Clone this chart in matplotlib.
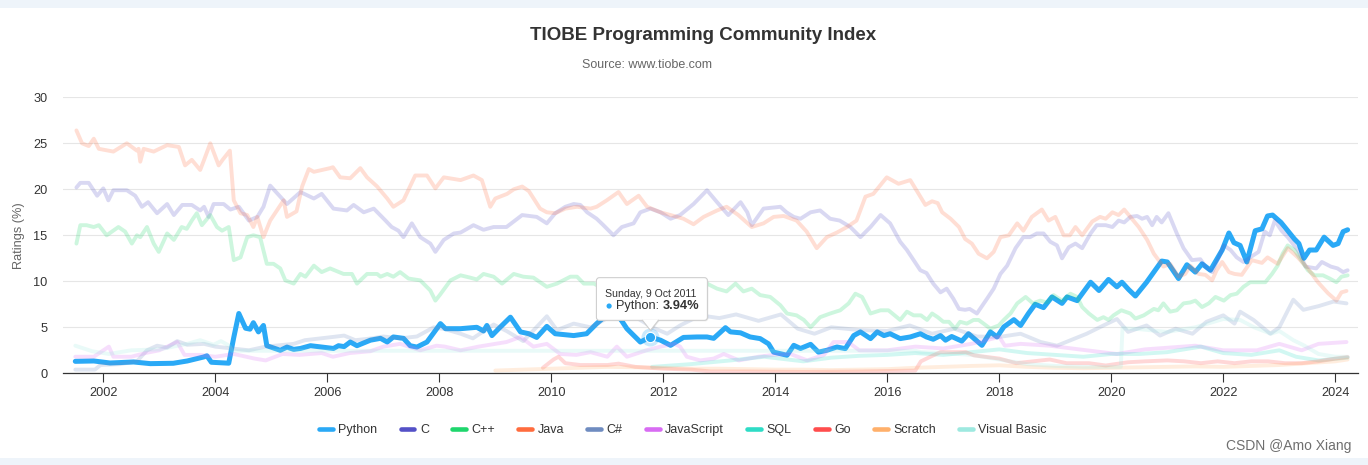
import matplotlib
matplotlib.use("Agg")
import matplotlib.pyplot as plt
from matplotlib.lines import Line2D
from matplotlib.patches import Rectangle, FancyBboxPatch, Polygon, Circle
from matplotlib.transforms import Affine2D

plt.rcParams['font.family'] = ['Liberation Sans', 'DejaVu Sans']

# ---------------- data ----------------
series_names = ["Python", "C", "C++", "Java", "C#", "JavaScript", "SQL", "Go", "Scratch", "Visual Basic"]
series_colors = ["#2aa9f6", "#5451c7", "#1fd66d", "#ff6c3e", "#6f8cc0", "#d86cf3", "#2edcc6", "#ff4d4d", "#ffb06b", "#9ee9e0"]

python_x = [2001.5, 2001.83, 2002.12, 2002.54, 2002.84, 2003.25, 2003.5, 2003.79, 2003.85, 2003.93, 2004.24, 2004.33, 2004.42, 2004.54, 2004.62, 2004.68, 2004.77, 2004.86, 2004.92, 2005.16, 2005.28, 2005.4, 2005.52, 2005.7, 2006.11, 2006.2, 2006.3, 2006.41, 2006.53, 2006.77, 2006.95, 2007.07, 2007.18, 2007.36, 2007.48, 2007.6, 2007.78, 2008.02, 2008.11, 2008.38, 2008.67, 2008.79, 2008.85, 2008.94, 2009.06, 2009.27, 2009.45, 2009.6, 2009.74, 2009.92, 2010.07, 2010.4, 2010.63, 2010.81, 2011.0, 2011.17, 2011.35, 2011.59, 2011.77, 2011.95, 2012.13, 2012.36, 2012.6, 2012.78, 2012.9, 2013.11, 2013.2, 2013.38, 2013.55, 2013.73, 2013.88, 2013.97, 2014.21, 2014.33, 2014.45, 2014.63, 2014.77, 2014.92, 2015.1, 2015.25, 2015.4, 2015.52, 2015.7, 2015.82, 2015.94, 2016.05, 2016.23, 2016.41, 2016.59, 2016.7, 2016.82, 2016.95, 2017.04, 2017.15, 2017.33, 2017.45, 2017.55, 2017.69, 2017.84, 2017.96, 2018.08, 2018.26, 2018.38, 2018.52, 2018.64, 2018.79, 2018.94, 2019.12, 2019.21, 2019.39, 2019.63, 2019.78, 2019.95, 2020.1, 2020.19, 2020.31, 2020.43, 2020.63, 2020.9, 2021.0, 2021.2, 2021.35, 2021.5, 2021.62, 2021.77, 2021.98, 2022.1, 2022.19, 2022.3, 2022.42, 2022.57, 2022.69, 2022.79, 2022.88, 2023.03, 2023.15, 2023.27, 2023.35, 2023.44, 2023.54, 2023.66, 2023.8, 2023.96, 2024.05, 2024.14, 2024.22]
python_y = [1.3, 1.34, 1.12, 1.23, 1.05, 1.09, 1.34, 1.77, 1.9, 1.2, 1.1, 3.9, 6.5, 4.9, 4.8, 5.5, 4.5, 5.2, 3.0, 2.5, 2.85, 2.6, 2.7, 3.0, 2.7, 3.0, 2.9, 3.4, 3.0, 3.6, 3.8, 3.4, 3.95, 3.8, 3.0, 2.85, 3.4, 5.4, 4.85, 4.85, 5.0, 4.6, 5.2, 4.1, 4.85, 6.1, 4.5, 4.3, 3.9, 5.1, 4.3, 4.1, 4.3, 5.4, 6.4, 6.5, 4.85, 3.4, 3.94, 3.6, 3.04, 3.9, 3.95, 3.95, 3.8, 4.96, 4.5, 4.4, 3.95, 3.77, 3.2, 2.3, 1.96, 3.04, 2.7, 3.15, 2.3, 2.5, 2.86, 2.68, 4.1, 4.5, 3.77, 4.5, 4.1, 4.3, 3.77, 3.95, 4.3, 3.95, 3.7, 4.1, 3.6, 4.0, 3.5, 4.3, 3.77, 3.04, 4.5, 3.95, 5.04, 5.83, 5.2, 6.5, 7.5, 7.14, 8.3, 7.6, 8.3, 7.9, 9.9, 9.0, 10.2, 9.4, 9.9, 9.1, 8.4, 9.9, 12.2, 12.1, 10.3, 11.8, 11.0, 11.9, 11.2, 13.4, 15.25, 14.2, 13.9, 12.1, 15.5, 15.7, 17.1, 17.2, 16.4, 15.5, 14.6, 14.1, 12.5, 13.4, 13.4, 14.8, 13.9, 14.1, 15.4, 15.6]

c_x = [2001.52, 2001.59, 2001.74, 2001.89, 2002.0, 2002.09, 2002.18, 2002.42, 2002.57, 2002.69, 2002.8, 2002.96, 2003.14, 2003.26, 2003.41, 2003.58, 2003.73, 2003.8, 2003.88, 2003.97, 2004.15, 2004.27, 2004.42, 2004.6, 2004.75, 2004.86, 2004.98, 2005.1, 2005.28, 2005.52, 2005.76, 2005.9, 2006.11, 2006.35, 2006.47, 2006.65, 2006.83, 2007.04, 2007.15, 2007.27, 2007.36, 2007.51, 2007.66, 2007.84, 2007.93, 2008.08, 2008.26, 2008.38, 2008.61, 2008.79, 2008.97, 2009.2, 2009.48, 2009.74, 2009.92, 2010.07, 2010.25, 2010.4, 2010.52, 2010.64, 2010.81, 2010.93, 2011.11, 2011.26, 2011.47, 2011.59, 2011.77, 2011.95, 2012.13, 2012.3, 2012.54, 2012.78, 2012.96, 2013.16, 2013.38, 2013.5, 2013.58, 2013.79, 2014.09, 2014.2, 2014.33, 2014.45, 2014.63, 2014.8, 2014.98, 2015.15, 2015.34, 2015.52, 2015.7, 2015.88, 2016.05, 2016.23, 2016.35, 2016.47, 2016.59, 2016.7, 2016.82, 2016.95, 2017.06, 2017.18, 2017.28, 2017.39, 2017.47, 2017.6, 2017.78, 2017.9, 2018.02, 2018.14, 2018.29, 2018.43, 2018.55, 2018.67, 2018.79, 2018.91, 2019.03, 2019.12, 2019.24, 2019.36, 2019.48, 2019.63, 2019.74, 2019.9, 2020.02, 2020.13, 2020.23, 2020.34, 2020.46, 2020.55, 2020.64, 2020.73, 2020.81, 2020.9, 2021.02, 2021.17, 2021.29, 2021.44, 2021.59, 2021.68, 2021.8, 2021.92, 2022.01, 2022.13, 2022.24, 2022.36, 2022.48, 2022.63, 2022.74, 2022.83, 2022.92, 2023.04, 2023.15, 2023.33, 2023.47, 2023.66, 2023.76, 2023.92, 2024.04, 2024.14, 2024.22]
c_y = [20.2, 20.7, 20.7, 19.3, 20.1, 18.8, 19.9, 19.9, 19.3, 18.1, 18.6, 17.4, 18.4, 17.2, 18.3, 18.3, 17.7, 18.1, 17.0, 18.4, 18.4, 17.8, 18.1, 16.6, 17.0, 18.1, 20.4, 19.6, 18.4, 19.7, 19.0, 19.5, 17.9, 17.7, 18.3, 17.5, 17.9, 16.6, 15.9, 15.5, 14.8, 16.3, 14.8, 14.1, 13.2, 14.5, 15.2, 15.3, 16.1, 15.6, 15.9, 15.9, 17.2, 17.0, 16.3, 17.4, 18.1, 18.4, 18.3, 17.5, 16.8, 16.1, 15.0, 15.9, 16.3, 17.5, 17.9, 17.5, 16.8, 17.2, 18.4, 19.9, 18.6, 17.2, 18.6, 17.5, 16.1, 17.9, 18.1, 17.5, 17.0, 16.8, 17.5, 17.7, 16.8, 16.6, 15.9, 14.8, 15.9, 17.2, 16.3, 14.3, 13.4, 12.3, 11.2, 10.9, 9.75, 8.8, 9.2, 8.1, 7.0, 6.9, 7.0, 6.5, 8.1, 9.2, 10.8, 11.7, 13.6, 14.8, 14.8, 15.2, 15.2, 14.3, 13.9, 12.5, 13.7, 14.1, 13.6, 15.2, 16.1, 16.1, 15.9, 16.6, 16.4, 17.0, 17.1, 16.8, 17.0, 16.1, 17.0, 16.4, 17.4, 15.2, 13.6, 12.3, 12.4, 11.6, 11.0, 12.6, 13.9, 13.4, 12.6, 12.1, 12.6, 13.2, 15.4, 15.0, 16.6, 15.5, 14.8, 13.4, 11.6, 11.4, 12.1, 11.6, 11.4, 11.0, 11.2]

cpp_x = [2001.52, 2001.59, 2001.7, 2001.83, 2001.92, 2002.06, 2002.27, 2002.39, 2002.51, 2002.6, 2002.66, 2002.78, 2002.9, 2002.99, 2003.14, 2003.26, 2003.4, 2003.49, 2003.58, 2003.67, 2003.76, 2003.91, 2004.03, 2004.12, 2004.24, 2004.33, 2004.45, 2004.57, 2004.68, 2004.8, 2004.92, 2005.04, 2005.16, 2005.25, 2005.4, 2005.52, 2005.61, 2005.76, 2005.9, 2006.05, 2006.29, 2006.44, 2006.53, 2006.71, 2006.89, 2006.95, 2007.07, 2007.18, 2007.3, 2007.45, 2007.66, 2007.84, 2007.93, 2008.02, 2008.2, 2008.38, 2008.55, 2008.67, 2008.79, 2008.97, 2009.12, 2009.33, 2009.5, 2009.68, 2009.92, 2010.1, 2010.34, 2010.46, 2010.58, 2010.76, 2010.99, 2011.23, 2011.47, 2011.71, 2011.95, 2012.18, 2012.42, 2012.66, 2012.78, 2012.96, 2013.13, 2013.29, 2013.43, 2013.58, 2013.73, 2013.91, 2014.09, 2014.21, 2014.38, 2014.51, 2014.63, 2014.8, 2014.98, 2015.16, 2015.31, 2015.43, 2015.55, 2015.7, 2015.88, 2016.02, 2016.23, 2016.35, 2016.47, 2016.6, 2016.71, 2016.8, 2016.9, 2017.0, 2017.1, 2017.21, 2017.3, 2017.42, 2017.54, 2017.63, 2017.72, 2017.84, 2017.99, 2018.08, 2018.2, 2018.32, 2018.47, 2018.6, 2018.73, 2018.85, 2018.97, 2019.12, 2019.27, 2019.39, 2019.48, 2019.6, 2019.75, 2019.86, 2019.95, 2020.04, 2020.18, 2020.34, 2020.43, 2020.58, 2020.76, 2020.84, 2020.93, 2021.05, 2021.17, 2021.29, 2021.41, 2021.5, 2021.62, 2021.74, 2021.86, 2022.01, 2022.13, 2022.24, 2022.36, 2022.48, 2022.63, 2022.75, 2022.87, 2022.97, 2023.06, 2023.15, 2023.27, 2023.39, 2023.51, 2023.63, 2023.78, 2023.9, 2024.02, 2024.11, 2024.22]
cpp_y = [14.1, 16.1, 16.1, 15.9, 16.1, 15.0, 15.9, 15.4, 14.1, 15.0, 14.8, 15.9, 14.1, 13.2, 15.2, 14.5, 15.9, 15.7, 16.6, 17.4, 16.1, 17.2, 15.9, 15.5, 15.9, 12.3, 12.6, 14.8, 15.0, 14.8, 11.9, 11.9, 11.4, 10.1, 9.75, 10.8, 10.5, 11.7, 11.0, 11.4, 10.8, 10.8, 9.75, 10.8, 10.8, 10.5, 10.8, 10.5, 11.0, 10.3, 10.1, 9.0, 7.9, 8.6, 10.1, 10.65, 10.4, 10.2, 10.8, 10.5, 9.75, 10.8, 10.5, 10.4, 9.4, 9.75, 10.5, 10.5, 9.75, 9.75, 9.0, 8.3, 8.3, 8.2, 8.7, 8.3, 8.9, 9.4, 9.75, 9.2, 8.9, 9.75, 8.9, 9.2, 8.5, 8.3, 7.4, 6.5, 6.3, 5.8, 5.0, 6.1, 6.5, 6.85, 7.6, 8.65, 8.3, 6.5, 6.85, 6.85, 5.8, 6.7, 6.3, 6.3, 5.8, 6.5, 6.1, 5.6, 5.6, 4.85, 5.6, 5.4, 5.8, 5.8, 5.4, 4.85, 5.2, 5.8, 6.5, 7.6, 8.3, 7.6, 7.9, 7.7, 8.5, 7.9, 8.65, 8.3, 7.2, 6.5, 5.8, 6.1, 5.8, 6.3, 6.85, 6.5, 5.95, 6.3, 7.0, 6.85, 7.6, 6.7, 6.85, 7.6, 7.7, 7.9, 7.2, 7.6, 8.3, 7.9, 8.5, 8.65, 9.4, 9.9, 9.9, 9.9, 10.8, 11.7, 13.0, 13.9, 13.4, 12.3, 11.2, 10.65, 10.65, 10.3, 9.9, 10.5, 10.65]

java_x = [2001.52, 2001.62, 2001.74, 2001.83, 2001.92, 2002.18, 2002.42, 2002.6, 2002.63, 2002.66, 2002.72, 2002.9, 2003.14, 2003.35, 2003.46, 2003.58, 2003.73, 2003.8, 2003.91, 2004.06, 2004.13, 2004.26, 2004.33, 2004.45, 2004.57, 2004.68, 2004.75, 2004.86, 2004.98, 2005.22, 2005.28, 2005.45, 2005.55, 2005.67, 2005.76, 2006.05, 2006.1, 2006.23, 2006.41, 2006.59, 2006.71, 2006.89, 2007.07, 2007.18, 2007.36, 2007.57, 2007.78, 2007.93, 2008.08, 2008.38, 2008.61, 2008.76, 2008.91, 2009.0, 2009.21, 2009.33, 2009.48, 2009.6, 2009.8, 2009.92, 2010.07, 2010.25, 2010.46, 2010.7, 2010.81, 2010.99, 2011.2, 2011.35, 2011.56, 2011.71, 2011.95, 2012.13, 2012.36, 2012.54, 2012.72, 2012.96, 2013.13, 2013.34, 2013.58, 2013.79, 2013.97, 2014.15, 2014.38, 2014.56, 2014.74, 2014.92, 2015.1, 2015.28, 2015.45, 2015.61, 2015.75, 2015.99, 2016.2, 2016.41, 2016.5, 2016.68, 2016.8, 2016.9, 2016.98, 2017.13, 2017.28, 2017.39, 2017.51, 2017.63, 2017.78, 2017.9, 2018.02, 2018.17, 2018.32, 2018.43, 2018.58, 2018.76, 2018.88, 2019.0, 2019.15, 2019.26, 2019.36, 2019.48, 2019.66, 2019.8, 2019.9, 2020.02, 2020.13, 2020.23, 2020.34, 2020.49, 2020.64, 2020.76, 2020.93, 2021.05, 2021.2, 2021.32, 2021.41, 2021.56, 2021.68, 2021.8, 2021.88, 2021.98, 2022.1, 2022.2, 2022.33, 2022.51, 2022.69, 2022.79, 2022.97, 2023.15, 2023.33, 2023.51, 2023.69, 2023.87, 2024.02, 2024.11, 2024.2]
java_y = [26.4, 25.0, 24.7, 25.5, 24.4, 24.1, 25.0, 24.2, 24.4, 23.0, 24.4, 24.1, 24.8, 24.6, 22.6, 23.2, 22.1, 23.2, 25.0, 22.6, 23.2, 24.2, 18.8, 17.4, 17.2, 15.9, 17.0, 14.8, 16.6, 18.8, 17.0, 17.6, 20.3, 22.2, 21.9, 22.3, 22.4, 21.3, 21.2, 22.3, 21.3, 20.3, 19.0, 18.1, 18.8, 21.5, 21.5, 20.1, 21.3, 21.0, 21.5, 21.0, 18.1, 19.0, 19.5, 20.0, 20.3, 19.8, 17.9, 17.5, 17.4, 17.9, 18.1, 17.9, 18.1, 18.8, 19.7, 18.4, 19.3, 18.1, 17.5, 17.2, 16.8, 16.2, 17.0, 17.7, 18.1, 17.2, 15.9, 16.3, 17.0, 17.1, 16.6, 15.4, 13.6, 14.8, 15.3, 15.9, 16.6, 19.2, 19.5, 21.3, 20.6, 21.0, 20.1, 18.3, 18.7, 18.5, 17.5, 16.8, 15.9, 14.6, 14.1, 13.0, 12.5, 13.2, 14.8, 15.0, 16.3, 15.5, 17.0, 17.8, 16.6, 17.0, 15.0, 15.0, 15.9, 15.0, 16.5, 17.0, 16.8, 17.5, 17.2, 17.8, 17.0, 15.9, 14.5, 13.0, 11.6, 11.9, 10.5, 10.8, 11.7, 10.8, 10.7, 10.1, 11.2, 12.1, 11.0, 10.8, 10.7, 12.3, 12.0, 12.6, 11.9, 13.6, 12.6, 11.4, 9.9, 8.7, 7.9, 8.8, 8.95]

csharp_x = [2001.5, 2001.85, 2001.95, 2002.3, 2002.6, 2002.78, 2002.96, 2003.14, 2003.32, 2003.5, 2003.8, 2004.0, 2004.3, 2004.6, 2004.9, 2005.4, 2005.6, 2006.1, 2006.3, 2006.5, 2006.8, 2007.0, 2007.3, 2007.6, 2007.9, 2008.1, 2008.38, 2008.6, 2008.97, 2009.2, 2009.5, 2009.92, 2010.1, 2010.4, 2010.7, 2011.0, 2011.4, 2011.8, 2012.07, 2012.3, 2012.66, 2013.0, 2013.3, 2013.7, 2014.1, 2014.4, 2014.7, 2015.0, 2015.5, 2016.0, 2016.4, 2016.8, 2017.2, 2017.6, 2018.0, 2018.38, 2018.74, 2019.03, 2019.56, 2019.86, 2020.1, 2020.3, 2020.63, 2020.87, 2021.15, 2021.45, 2021.7, 2022.0, 2022.2, 2022.3, 2022.54, 2022.84, 2023.0, 2023.25, 2023.43, 2023.7, 2023.97, 2024.2]
csharp_y = [0.4, 0.4, 0.9, 1.0, 1.3, 2.5, 3.0, 2.8, 3.5, 3.1, 3.2, 2.9, 2.7, 2.5, 2.9, 3.2, 3.6, 3.95, 4.1, 3.6, 3.8, 4.0, 3.8, 4.0, 5.0, 4.8, 4.3, 3.8, 5.3, 4.6, 3.5, 6.2, 4.7, 5.4, 5.0, 6.0, 6.5, 5.0, 4.3, 5.2, 6.3, 6.0, 6.4, 5.7, 6.4, 4.85, 4.3, 5.0, 4.7, 4.6, 5.2, 4.3, 4.85, 4.0, 3.95, 4.3, 3.4, 3.0, 4.3, 5.2, 5.9, 4.5, 5.2, 4.1, 4.85, 4.3, 5.6, 6.3, 5.4, 6.7, 5.8, 4.3, 5.0, 8.0, 6.9, 7.3, 7.8, 7.6]

js_x = [2001.5, 2001.83, 2002.1, 2002.18, 2002.5, 2002.75, 2003.0, 2003.32, 2003.45, 2003.73, 2004.0, 2004.33, 2004.7, 2004.9, 2005.2, 2005.5, 2005.9, 2006.1, 2006.4, 2006.77, 2007.0, 2007.3, 2007.66, 2007.95, 2008.1, 2008.38, 2008.7, 2009.2, 2009.45, 2009.68, 2009.92, 2010.16, 2010.45, 2010.7, 2011.0, 2011.17, 2011.35, 2011.7, 2011.95, 2012.2, 2012.3, 2012.42, 2012.66, 2012.9, 2013.08, 2013.35, 2013.7, 2013.97, 2014.27, 2014.57, 2014.87, 2015.04, 2015.3, 2015.5, 2016.0, 2016.5, 2017.0, 2017.5, 2018.0, 2018.1, 2018.38, 2018.9, 2019.56, 2020.1, 2020.6, 2021.5, 2022.0, 2022.6, 2023.0, 2023.4, 2023.7, 2024.2]
js_y = [1.8, 1.8, 2.9, 1.8, 1.8, 2.2, 2.5, 3.4, 2.0, 2.0, 1.8, 2.1, 1.6, 1.4, 2.1, 2.0, 2.2, 1.8, 2.2, 2.4, 2.9, 3.2, 2.5, 3.0, 2.9, 2.5, 2.9, 3.4, 3.95, 2.9, 3.2, 2.1, 2.0, 2.3, 1.8, 2.9, 1.8, 2.5, 2.9, 3.2, 2.9, 1.8, 1.4, 1.6, 2.1, 1.4, 1.8, 2.0, 2.1, 1.4, 2.0, 3.4, 3.4, 2.5, 2.5, 2.9, 2.7, 3.2, 3.95, 3.0, 3.2, 3.0, 2.5, 2.1, 2.6, 3.0, 2.5, 2.5, 3.2, 2.5, 3.2, 3.4]

sql_x = [2011.8, 2012.5, 2013.2, 2013.8, 2014.5, 2015.0, 2015.5, 2016.0, 2016.5, 2017.0, 2017.5, 2018.0, 2018.5, 2019.0, 2019.5, 2020.0, 2020.5, 2021.0, 2021.6, 2022.0, 2022.5, 2023.0, 2023.3, 2023.7, 2024.22]
sql_y = [0.7, 1.0, 1.4, 1.8, 1.3, 1.7, 1.9, 2.0, 2.2, 2.0, 2.3, 2.6, 2.2, 2.0, 1.8, 2.1, 2.1, 2.3, 2.9, 2.2, 2.0, 2.5, 1.8, 1.4, 1.7]

go_x = [2009.85, 2010.04, 2010.13, 2010.25, 2010.52, 2011.0, 2011.2, 2011.5, 2012.0, 2012.5, 2012.85, 2013.5, 2014.5, 2015.5, 2016.5, 2016.6, 2016.82, 2016.95, 2017.4, 2017.55, 2018.0, 2018.3, 2018.6, 2018.9, 2019.2, 2019.6, 2019.9, 2020.3, 2020.6, 2021.0, 2021.3, 2021.6, 2021.9, 2022.2, 2022.5, 2022.8, 2023.1, 2023.4, 2023.7, 2024.0, 2024.22]
go_y = [0.6, 1.5, 1.8, 1.1, 0.9, 0.9, 1.05, 0.7, 0.5, 0.4, 0.2, 0.2, 0.15, 0.2, 0.3, 1.3, 1.95, 2.3, 2.3, 1.95, 1.6, 1.1, 1.3, 1.5, 1.1, 1.1, 0.85, 1.2, 1.3, 1.4, 1.3, 1.1, 1.3, 1.1, 1.3, 1.3, 1.1, 1.1, 1.3, 1.6, 1.77]

scratch_x = [2009.0, 2009.5, 2010.0, 2010.5, 2011.0, 2011.5, 2012.0, 2012.5, 2013.0, 2013.5, 2014.0, 2014.5, 2015.0, 2015.5, 2016.0, 2016.5, 2017.0, 2017.5, 2018.0, 2018.5, 2019.0, 2019.5, 2020.0, 2020.5, 2021.0, 2021.5, 2022.0, 2022.5, 2023.0, 2023.5, 2024.0, 2024.22]
scratch_y = [0.3, 0.4, 0.5, 0.6, 0.7, 0.65, 0.6, 0.5, 0.5, 0.45, 0.4, 0.4, 0.35, 0.4, 0.45, 0.6, 0.7, 0.8, 0.87, 0.7, 0.6, 0.55, 0.6, 0.65, 0.7, 0.75, 0.7, 0.8, 0.9, 1.1, 1.3, 1.5]

vb_x = [2001.5, 2001.8, 2002.1, 2002.5, 2003.0, 2003.5, 2003.73, 2003.97, 2004.1, 2004.25, 2004.3, 2016.5, 2016.6, 2017.0, 2017.5, 2018.0, 2018.5, 2019.0, 2019.5, 2020.17, 2020.2, 2020.5, 2021.0, 2021.5, 2022.0, 2022.3, 2022.55, 2022.85, 2023.0, 2023.25, 2023.45, 2023.7, 2024.0, 2024.22]
vb_y = [3.0, 2.4, 2.1, 2.5, 2.6, 3.2, 3.6, 3.1, 3.5, 3.0, 2.45, 2.45, 2.3, 2.2, 2.0, 1.5, 1.0, 0.8, 0.7, 0.7, 4.9, 4.8, 4.5, 5.0, 5.9, 5.8, 5.0, 4.3, 4.6, 3.6, 3.0, 2.1, 1.8, 1.8]

x_ticks = [2002, 2004, 2006, 2008, 2010, 2012, 2014, 2016, 2018, 2020, 2022, 2024]
y_ticks = [0, 5, 10, 15, 20, 25, 30]

title_text = "TIOBE Programming Community Index"
subtitle_text = "Source: www.tiobe.com"
ylabel_text = "Ratings (%)"
tooltip_date = "Sunday, 9 Oct 2011"
tooltip_x = 2011.77
tooltip_value = 3.94
watermark_text = "CSDN @Amo Xiang"

# ---------------- figure ----------------
W, H = 1368, 465
fig = plt.figure(figsize=(W / 100, H / 100), dpi=100)
fig.patch.set_facecolor("white")
fig.patches.append(Rectangle((0, 1 - 8 / H), 1, 8 / H, transform=fig.transFigure,
                             fc="#eef4fa", ec="none", zorder=0))
fig.patches.append(Rectangle((0, 0), 1, 7 / H, transform=fig.transFigure,
                             fc="#eef4fa", ec="none", zorder=0))

ax = fig.add_axes([62.7 / W, (H - 373.3) / H, (1357.7 - 62.7) / W, (373.3 - 97.3) / H])
ax.set_xlim(2001.275, 2024.4)
ax.set_ylim(0, 30)

faded = [
    (c_x, c_y, series_colors[1]),
    (cpp_x, cpp_y, series_colors[2]),
    (java_x, java_y, series_colors[3]),
    (csharp_x, csharp_y, series_colors[4]),
    (js_x, js_y, series_colors[5]),
    (sql_x, sql_y, series_colors[6]),
    (go_x, go_y, series_colors[7]),
    (scratch_x, scratch_y, series_colors[8]),
    (vb_x, vb_y, series_colors[9]),
]
ax.plot(python_x, python_y, color=series_colors[0], lw=3.6, zorder=2,
        solid_joinstyle="round", solid_capstyle="round")
for xs, ys, col in faded:
    ax.plot(xs, ys, color=col, lw=2.8, alpha=0.22, zorder=3,
            solid_joinstyle="round", solid_capstyle="round")

# axes styling
ax.set_yticks(y_ticks)
ax.set_xticks(x_ticks)
ax.set_xticklabels([str(t) for t in x_ticks])
ax.yaxis.grid(True, color="#e6e6e6", lw=0.8)
ax.set_axisbelow(True)
for s in ["top", "right", "left"]:
    ax.spines[s].set_visible(False)
ax.spines["bottom"].set_color("#333333")
ax.spines["bottom"].set_linewidth(0.9)
ax.tick_params(axis="y", length=0, pad=11, labelsize=9.2, labelcolor="#333333")
ax.tick_params(axis="x", length=6.7, width=0.8, color="#333333", pad=3,
               labelsize=9.2, labelcolor="#333333")
ax.set_ylabel(ylabel_text, color="#666666", fontsize=9.2)
ax.yaxis.set_label_coords((25 - 62.7) / 1295, 0.5)

fig.text(703 / W, 1 - 35 / H, title_text, ha="center", va="center",
         fontsize=13.5, fontweight="bold", color="#333333")
fig.text(647 / W, 1 - 65 / H, subtitle_text, ha="center", va="center",
         fontsize=9, color="#666666")

handles = [Line2D([], [], color=c, lw=3.3, solid_capstyle="round") for c in series_colors]
leg = fig.legend(handles, series_names, loc="center", bbox_to_anchor=(683 / W, 1 - 430 / H),
                 ncol=10, frameon=False, fontsize=9, handlelength=1.1, handletextpad=0.45,
                 columnspacing=1.85, borderaxespad=0)
for t in leg.get_texts():
    t.set_color("#333333")

fig.text(1351 / W, 1 - 446 / H, watermark_text, ha="right", va="center",
         fontsize=10, color="#6f6f6f")

# ---------------- tooltip ----------------
px, py = ax.transData.transform((tooltip_x, tooltip_value))
tr = Affine2D().translate(px, py)

ax.plot([tooltip_x], [tooltip_value], marker="o", ms=13, color=series_colors[0],
        alpha=0.25, mec="none", zorder=5)
ax.plot([tooltip_x], [tooltip_value], marker="o", ms=7.4, color=series_colors[0],
        mec="white", mew=0.8, zorder=6)

shadow = FancyBboxPatch((-53, 15.7), 111, 42.7, boxstyle="round,pad=0,rounding_size=3",
                        fc="#000000", ec="none", alpha=0.08, transform=tr, zorder=9)
box = FancyBboxPatch((-54, 16.7), 111, 42.7, boxstyle="round,pad=0,rounding_size=3",
                     fc="white", ec="#cfcfcf", lw=0.8, transform=tr, zorder=10)
fig.add_artist(shadow)
fig.add_artist(box)
tri_shadow = Polygon([(-7, 16.0), (1, 5.7), (9, 16.0)], closed=True, fc="#000000",
                     ec="none", alpha=0.08, transform=tr, zorder=9)
fig.add_artist(tri_shadow)
tri = Polygon([(-8, 17.4), (0, 6.7), (8, 17.4)], closed=True, fc="white", ec="none",
              transform=tr, zorder=11)
fig.add_artist(tri)
fig.add_artist(Line2D([-8, 0, 8], [16.7, 6.7, 16.7], color="#cfcfcf", lw=0.8,
                      transform=tr, zorder=11))

fig.text(-45.8, 43.2, tooltip_date, transform=tr, ha="left", va="center",
         fontsize=7.6, color="#333333", zorder=12)
fig.add_artist(Circle((-41.3, 31.0), 2.6, fc=series_colors[0], ec="none",
                      transform=tr, zorder=12))
lab = fig.text(-34.6, 31.0, "Python:", transform=tr, ha="left", va="center",
               fontsize=9.2, color="#333333", zorder=12)
renderer = fig.canvas.get_renderer()
wlab = lab.get_window_extent(renderer).width
fig.text(-34.6 + wlab + 3.6, 31.0, f"{tooltip_value:.2f}%", transform=tr, ha="left",
         va="center", fontsize=9.2, fontweight="bold", color="#333333", zorder=12)

fig.savefig("out.png", dpi=100, facecolor=fig.get_facecolor())
